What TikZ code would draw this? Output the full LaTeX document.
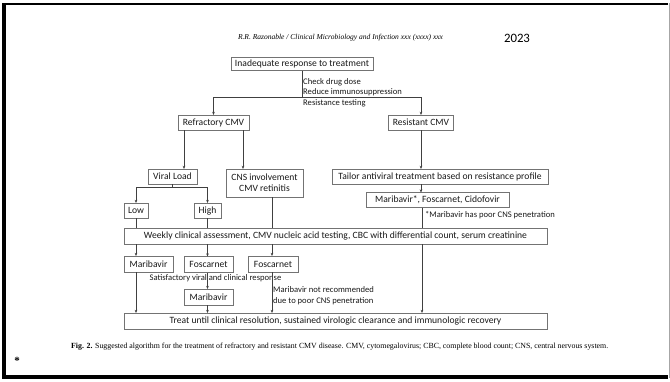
\documentclass[tikz,border=0pt]{standalone}
\usepackage{fontspec}
\setmainfont{Carlito}
\newfontfamily\capfont{Liberation Serif}
\usetikzlibrary{arrows.meta,calc}
\tikzset{
  box/.style={draw=black!55, line width=0.6pt, fill=white, inner sep=0pt, outer sep=0pt,
    font=\fontsize{9.6}{11}\selectfont, text=black!90, anchor=center},
  conn/.style={draw=black!75, line width=0.7pt},
  arr/.style={conn, -{Stealth[length=3.2pt,width=2.6pt]}},
  note/.style={inner sep=0pt, font=\fontsize{8.6}{10.5}\selectfont, text=black!90, align=left},
}
\begin{document}
\begin{tikzpicture}[x=1pt,y=-1pt]
\useasboundingbox (0,0) rectangle (670,381);
% frame
\draw[line width=2.5pt, black] (2,4) -- (668,4);
\draw[line width=4pt, black] (4,3) -- (4,379);
\draw[line width=4pt, black] (2,377) -- (668,377);
\draw[line width=1pt, black!35] (669,3) -- (669,378);

% header
\node[inner sep=0pt] (hdr) at (340.5,38) {\resizebox{205pt}{!}{\capfont\itshape R.R. Razonable / Clinical Microbiology and Infection xxx (xxxx) xxx}};
\node[inner sep=0pt, font=\fontsize{12.8}{14}\selectfont] (year) at (517,38) {2023};

% boxes
\node[box, minimum width=142, minimum height=13] (top) at (302,64) {Inadequate response to treatment};
\node[box, minimum width=71, minimum height=15] (refr) at (213.5,122.5) {Refractory CMV};
\node[box, minimum width=65, minimum height=15] (resist) at (421,122.5) {Resistant CMV};
\node[box, minimum width=49, minimum height=15] (viral) at (172.5,176.5) {Viral Load};
\node[box, minimum width=77, minimum height=28, align=center] (cns) at (264.5,183) {CNS involvement\\CMV retinitis};
\node[box, minimum width=216, minimum height=15] (tailor) at (440,176.5) {Tailor antiviral treatment based on resistance profile};
\node[box, minimum width=143, minimum height=15] (mfc) at (437.5,200) {Maribavir*, Foscarnet, Cidofovir};
\node[box, minimum width=24, minimum height=15] (low) at (136,210.5) {Low};
\node[box, minimum width=27, minimum height=15] (high) at (207.5,210.5) {High};
\node[box, minimum width=423, minimum height=16] (weekly) at (335.5,236) {Weekly clinical assessment, CMV nucleic acid testing, CBC with differential count, serum creatinine};
\node[box, minimum width=49, minimum height=16] (mar1) at (148.5,264) {Maribavir};
\node[box, minimum width=49, minimum height=16] (fos2) at (208.5,264.5) {Foscarnet};
\node[box, minimum width=50, minimum height=16] (fos3) at (273,264) {Foscarnet};
\node[box, minimum width=49, minimum height=16] (mar4) at (208.5,297) {Maribavir};
\node[box, minimum width=423, minimum height=16] (treat) at (335.5,321) {Treat until clinical resolution, sustained virologic clearance and immunologic recovery};

% notes
\node[note, anchor=west] (chk) at (303,92.5) {Check drug dose\\Reduce immunosuppression\\Resistance testing};
\node[note, anchor=west] (poor) at (425,215) {*Maribavir has poor CNS penetration};
\node[note, anchor=center] (sat) at (215.5,278) {Satisfactory viral and clinical response};
\node[note, anchor=west] (notrec) at (273,295.5) {Maribavir not recommended\\due to poor CNS penetration};

% connectors
\coordinate (split) at ($(top.south)+(0,26.5)$);
\draw[conn] (top.south) -- (split);
\draw[arr] (split) -| (refr.north);
\draw[arr] (split) -| (resist.north);

\draw[arr] ([xshift=-29.5]refr.south) -- ([xshift=-29.5]refr.south |- viral.north);
\draw[arr] ([xshift=29.5]refr.south) -- ([xshift=29.5]refr.south |- cns.north);

\coordinate (vsplit) at ($(viral.south)+(0,3)$);
\draw[conn] (viral.south) -- (vsplit);
\draw[arr] (vsplit) -| (low.north);
\draw[arr] (vsplit) -| (high.north);

\draw[conn] (low.south) -- (low.south |- weekly.north);
\draw[conn] (high.south) -- (high.south |- weekly.north);
\draw[conn] ([xshift=7.5]cns.south) -- ([xshift=7.5]cns.south |- weekly.north);

\draw[arr] (low.south |- weekly.south) -- (low.south |- mar1.north);
\draw[arr] (high.south |- weekly.south) -- (high.south |- fos2.north);
\draw[arr] ([xshift=7.5]cns.south |- weekly.south) -- ([xshift=7.5]cns.south |- fos3.north);

\draw[arr] (high.south |- fos2.south) -- (high.south |- mar4.north);
\draw[arr] (low.south |- mar1.south) -- (low.south |- treat.north);
\draw[arr] (high.south |- mar4.south) -- (high.south |- treat.north);
\draw[arr] ([xshift=7.5]cns.south |- fos3.south) -- ([xshift=7.5]cns.south |- treat.north);

\draw[arr] (resist.south) -- (resist.south |- tailor.north);
\draw[arr] (resist.south |- tailor.south) -- (resist.south |- mfc.north);
\draw[conn] ([xshift=1]resist.south |- mfc.south) -- ([xshift=1]resist.south |- weekly.north);
\draw[arr] ([xshift=1]resist.south |- weekly.south) -- ([xshift=1]resist.south |- treat.north);

% caption
\node[inner sep=0pt, anchor=west] (cap) at (71,347) {\resizebox{537pt}{!}{\capfont\textbf{Fig. 2.} Suggested algorithm for the treatment of refractory and resistant CMV disease. CMV, cytomegalovirus; CBC, complete blood count; CNS, central nervous system.}};
\node[inner sep=0pt, font=\capfont\bfseries\fontsize{11}{12}\selectfont] (ast) at (17,361) {*};
\end{tikzpicture}
\end{document}
